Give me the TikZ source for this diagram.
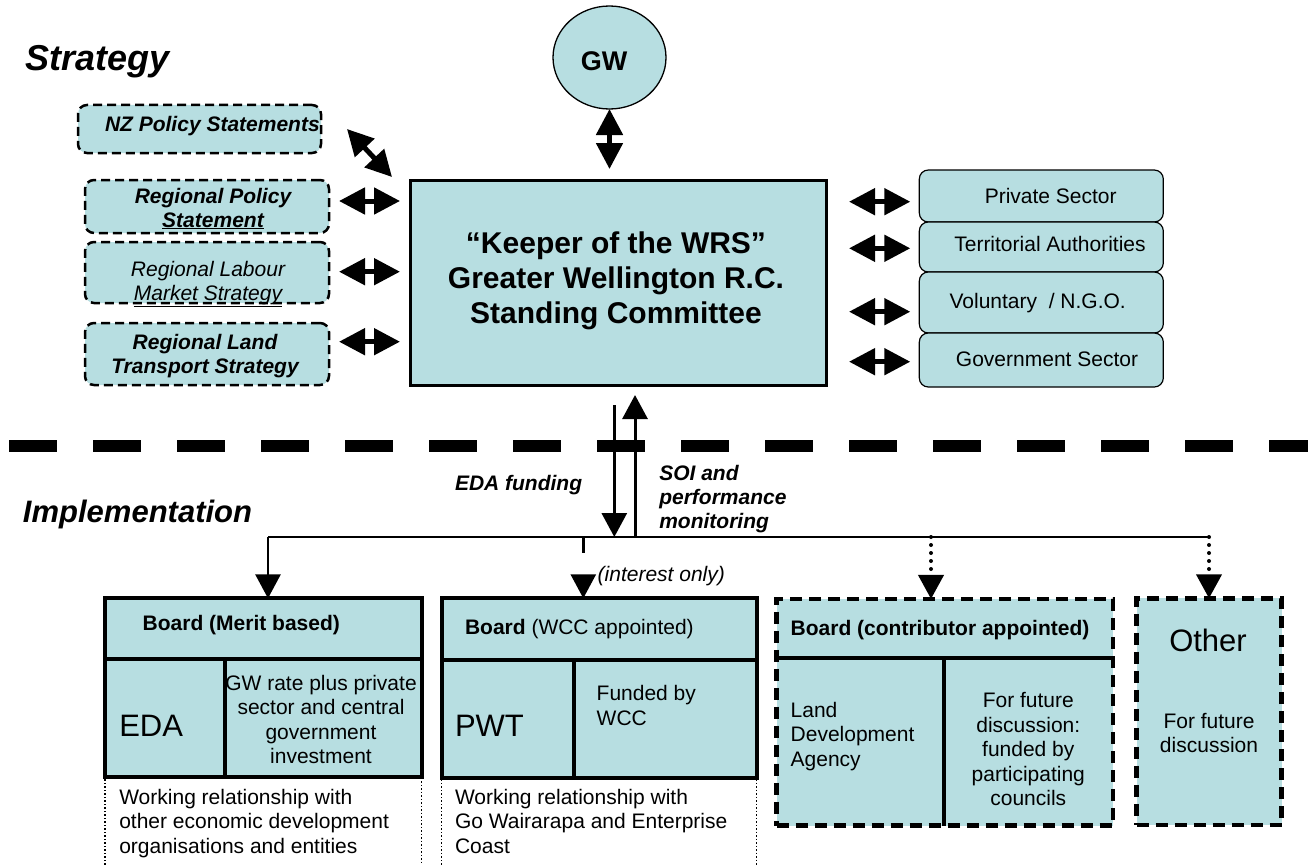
\documentclass[tikz,border=0pt]{standalone}
\usepackage{fontspec}
\setmainfont{Liberation Sans}
\usetikzlibrary{arrows.meta,shapes.geometric,calc}
\definecolor{tealfill}{RGB}{183,222,225}
\newcommand\fsz[2]{\fontsize{#1}{#2}\selectfont}
\begin{document}
\begin{tikzpicture}[x=1pt,y=-1pt,
  every node/.style={inner sep=0pt,outer sep=0pt},
  txt/.style={font=\fsz{21}{24.5}},
  btxt/.style={font=\bfseries\fsz{21}{24.5}},
  bitxt/.style={font=\bfseries\itshape\fsz{21}{24}},
  itxt/.style={font=\itshape\fsz{21}{24}},
  bigtxt/.style={font=\fsz{31}{35}},
  lbox/.style={draw,fill=tealfill,rounded corners=9pt,line width=2.5pt,dash pattern=on 9pt off 5pt},
  rbox/.style={draw,fill=tealfill,rounded corners=9pt,line width=1.2pt},
  bbox/.style={draw,fill=tealfill,line width=4pt},
  dbox/.style={draw,fill=tealfill,line width=4.5pt,dash pattern=on 12pt off 7pt},
  divline/.style={line width=4pt},
  dotline/.style={line width=1.5pt,dash pattern=on 1.5pt off 2pt},
  blk/.style={line width=5pt,{Triangle[length=26pt,width=26pt]}-{Triangle[length=26pt,width=26pt]}},
  arr/.style={line width=2.7pt,-{Triangle[length=24pt,width=25pt]}},
  dasharr/.style={arr,dash pattern=on 16pt off 30pt},
  dotarr/.style={line width=4pt,line cap=round,dash pattern=on 0pt off 8pt,-{Triangle[length=24pt,width=25pt]}},
  bus/.style={line width=1.7pt},
  sep/.style={line width=11.5pt,dash pattern=on 48pt off 36pt}
]
\useasboundingbox (0,0) rectangle (1308,864);

% titles
\node[font=\bfseries\itshape\fsz{36}{40},anchor=base west] (strat) at (25,71) {Strategy};
\node[font=\bfseries\itshape\fsz{31}{35},anchor=base west] (impl) at (23,522.7) {Implementation};

% GW
\node[ellipse,draw,line width=1.3pt,fill=tealfill,minimum width=113pt,minimum height=103pt] (gw) at (609.5,57.5) {};
\node[font=\bfseries\fsz{27}{30},anchor=base] (gwt) at (604,71) {GW};

% main box
\node[draw,line width=3pt,fill=tealfill,minimum width=416pt,minimum height=205pt] (main) at (618,282.5) {};
\node[font=\bfseries\fsz{30}{35},align=center,anchor=base] (maintxt) at (616,323.5) {“Keeper of the WRS”\\Greater Wellington R.C.\\Standing Committee};

% left boxes
\node[lbox,minimum width=243pt,minimum height=48pt] (nz) at (199.5,129) {};
\node[bitxt,anchor=base west] (nzt) at (105,131.7) {NZ Policy Statements};
\node[lbox,minimum width=244pt,minimum height=53pt] (rps) at (207,206.5) {};
\node[bitxt,align=center,anchor=base] (rpst) at (213,227) {Regional Policy\\\underline{Statement}};
\node[lbox,minimum width=244pt,minimum height=61pt] (rlms) at (207,272.5) {};
\node[itxt,align=center,anchor=base] (rlmst) at (208,300.5) {Regional Labour\\\underline{Market Strategy}};
\node[lbox,minimum width=244pt,minimum height=62pt] (rlts) at (207,354) {};
\node[bitxt,align=center,anchor=base] (rltst) at (205,373) {Regional Land\\Transport Strategy};

% right boxes
\node[rbox,minimum width=244pt,minimum height=52pt] (ps) at (1041.3,196) {};
\node[txt,anchor=base] (pst) at (1050.7,203.3) {Private Sector};
\node[rbox,minimum width=244pt,minimum height=50pt] (ta) at (1041.3,247) {};
\node[txt,anchor=base] (tat) at (1050,251.7) {Territorial Authorities};
\node[rbox,minimum width=244pt,minimum height=61pt] (vol) at (1041.3,302.5) {};
\node[txt,anchor=base] (volt) at (1037.7,308.3) {Voluntary~ / N.G.O.};
\node[rbox,minimum width=244pt,minimum height=54pt] (gov) at (1041.3,360) {};
\node[txt,anchor=base] (govt) at (1047,366.7) {Government Sector};

% block arrows
\draw[blk,shorten >=11pt] (gw.south) -- (main.north -| gw.south);
\draw[blk] ([xshift=26pt]nz.east) -- ([xshift=-18pt,yshift=3pt]main.north west);
\draw[blk] ([xshift=10pt,yshift=5.5pt]rps.east) -- ([xshift=-10pt,yshift=5.5pt]main.west |- rps.east);
\draw[blk] ([xshift=10pt,yshift=0.8pt]rlms.east) -- ([xshift=-10pt,yshift=0.8pt]main.west |- rlms.east);
\draw[blk] ([xshift=10pt,yshift=12.3pt]rlts.east) -- ([xshift=-10pt,yshift=12.3pt]main.west |- rlts.east);
\draw[blk] ([xshift=23pt,yshift=-5.7pt]main.east |- ps.west) -- ([xshift=-9pt,yshift=-5.7pt]ps.west);
\draw[blk] ([xshift=23pt,yshift=-1.3pt]main.east |- ta.west) -- ([xshift=-9pt,yshift=-1.3pt]ta.west);
\draw[blk] ([xshift=23pt,yshift=-9.2pt]main.east |- vol.west) -- ([xshift=-9pt,yshift=-9.2pt]vol.west);
\draw[blk] ([xshift=23pt,yshift=-1.7pt]main.east |- gov.west) -- ([xshift=-9pt,yshift=-1.7pt]gov.west);

% separator
\coordinate (sepL) at (9,446);
\coordinate (sepR) at (1320,446);
\draw[sep] (sepL) -- (sepR);

% bottom boxes
\draw[dotline] (105,875) -- (105,778) -- (421.5,778) -- (421.5,875);
\draw[dotline] (441.7,875) -- (441.7,778) -- (756.5,778) -- (756.5,875);
\node[bbox,minimum width=316.7pt,minimum height=178.7pt] (edabox) at (263.4,687.7) {};
\draw[divline] (edabox.west |- 0,659) -- (edabox.east |- 0,659);
\draw[divline] (225,659) -- (225,0 |- edabox.south);
\node[bbox,minimum width=315pt,minimum height=180pt] (pwtbox) at (599.2,688.3) {};
\draw[divline] (pwtbox.west |- 0,660) -- (pwtbox.east |- 0,660);
\draw[divline] (574,660) -- (574,0 |- pwtbox.south);
\node[dbox,minimum width=336.3pt,minimum height=226.7pt] (cbox) at (944.8,712.3) {};
\draw[divline] (cbox.west |- 0,658.3) -- (cbox.east |- 0,658.3);
\draw[divline] (944,658.3) -- (944,0 |- cbox.south);
\node[dbox,minimum width=145pt,minimum height=226.7pt] (obox) at (1209.2,711.7) {};

% bottom texts
\node[btxt,anchor=base west] (edahdr) at (142.7,630) {Board (Merit based)};
\node[bigtxt,anchor=base west] (edaname) at (119.3,736) {EDA};
\node[txt,align=center,anchor=base] (edafund) at (321,763.5) {GW rate plus private\\sector and central\\government\\investment};
\node[txt,align=left,anchor=base west] (edawork) at (119.3,853) {Working relationship with\\other economic development\\organisations and entities};
\node[txt,anchor=base west] (pwthdr) at (465,634) {\textbf{Board} (WCC appointed)};
\node[bigtxt,anchor=base west] (pwtname) at (455,736) {PWT};
\node[txt,align=left,anchor=base west] (pwtfund) at (596.7,725.2) {Funded by\\WCC};
\node[txt,align=left,anchor=base west] (pwtwork) at (455,853) {Working relationship with\\Go Wairarapa and Enterprise\\Coast};
\node[btxt,anchor=base west] (chdr) at (790.7,635) {Board (contributor appointed)};
\node[txt,align=left,anchor=base west] (cname) at (790.7,766.3) {Land\\Development\\Agency};
\node[txt,align=center,anchor=base] (cfund) at (1028.3,805.7) {For future\\discussion:\\funded by\\participating\\councils};
\node[bigtxt,anchor=base] (oname) at (1208,651.7) {Other};
\node[txt,align=center,anchor=base] (ofund) at (1209,752.5) {For future\\discussion};

% implementation connectors
\coordinate (busL) at (268,537);
\coordinate (busP) at (583.3,537);
\coordinate (busC) at (931,537);
\coordinate (busR) at (1209,537);
\draw[bus] (busL) -- (busR);
\draw[arr] (busL) -- (busL |- edabox.north);
\draw[dasharr] (busP) -- (busP |- pwtbox.north);
\draw[dotarr] (busC) -- (busC |- cbox.north);
\draw[dotarr] (busR) -- (busR |- obox.north);
\coordinate (fundtop) at (614.3,405);
\coordinate (soibot) at (635,537);
\draw[arr,line width=3pt] (fundtop) -- (fundtop |- busL);
\draw[arr,line width=3pt] (soibot) -- ([yshift=-10pt]soibot |- main.south);

\node[bitxt,anchor=base west] (fundlbl) at (455,490) {EDA funding};
\node[bitxt,align=left,anchor=base west] (soilbl) at (659.3,528) {SOI and\\performance\\monitoring};
\node[itxt,anchor=base west] (intlbl) at (597.7,581.7) {(interest only)};
\end{tikzpicture}
\end{document}
